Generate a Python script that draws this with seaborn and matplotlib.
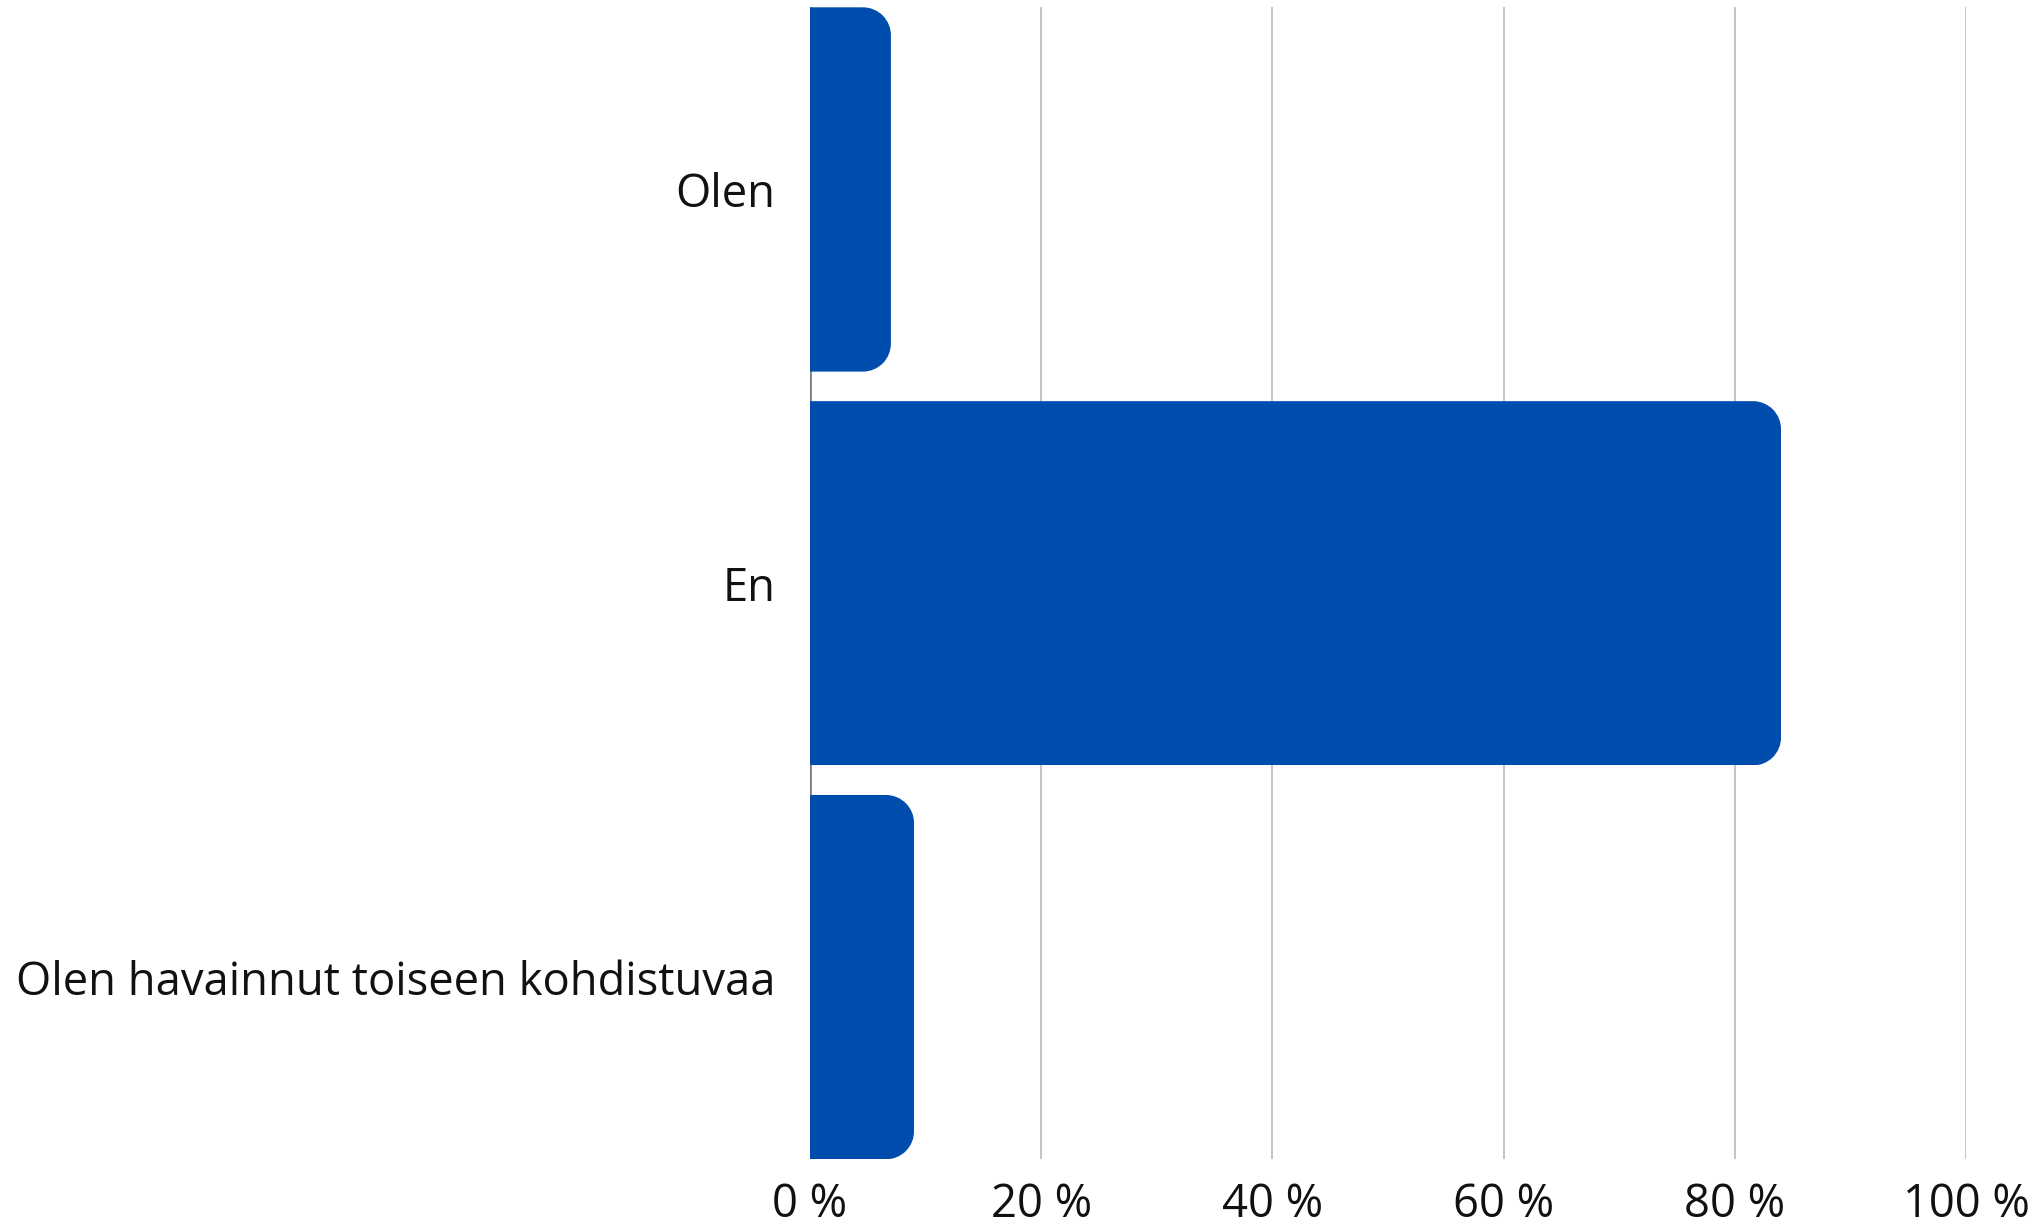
#!/usr/bin/env python3
"""
Horizontal bar chart of survey answers (share of respondents, %).
"""
import matplotlib.pyplot as plt
import seaborn as sns
import pandas as pd
from matplotlib.path import Path
from matplotlib.patches import PathPatch
from matplotlib.transforms import IdentityTransform

# data
categories = ['Olen', 'En', 'Olen havainnut toiseen kohdistuvaa']
shares = [7, 84, 9]
x_ticks = [0, 20, 40, 60, 80, 100]
x_tick_labels = ['0 %', '20 %', '40 %', '60 %', '80 %', '100 %']

bar_color = '#004DAD'
bar_width = 0.925
corner_px = 28


def right_rounded_path(x0, y0, x1, y1, r):
    """Rectangle in pixels, circular arcs on the two right corners."""
    top = Path.arc(0, 90)
    bot = Path.arc(270, 360)
    verts = [(x0, y0), (x1 - r, y0)]
    codes = [Path.MOVETO, Path.LINETO]
    # bottom-right corner
    for (vx, vy), c in zip(bot.vertices, bot.codes):
        verts.append((x1 - r + r * vx, y0 + r + r * vy))
        codes.append(Path.LINETO if c == Path.MOVETO else c)
    # top-right corner
    for (vx, vy), c in zip(top.vertices, top.codes):
        verts.append((x1 - r + r * vx, y1 - r + r * vy))
        codes.append(Path.LINETO if c == Path.MOVETO else c)
    verts += [(x0, y1), (x0, y0)]
    codes += [Path.LINETO, Path.CLOSEPOLY]
    return Path(verts, codes)


sns.set_style('white')
plt.rcParams['font.family'] = ['Open Sans', 'DejaVu Sans']

df = pd.DataFrame({'category': categories, 'share': shares})

fig = plt.figure(figsize=(20.35, 12.25), dpi=100)
ax = fig.add_axes([0.39803, 0.05363, 0.96609 - 0.39803, 0.99404 - 0.05363])

sns.barplot(data=df, x='share', y='category', orient='h', color=bar_color,
            saturation=1, width=bar_width, ax=ax, zorder=3)

ax.set_xlim(0, 100)
ax.set_ylim(len(categories) - 1 + bar_width / 2, -bar_width / 2)
ax.set_xticks(x_ticks)
ax.set_xticklabels(x_tick_labels)
ax.set_xlabel('')
ax.set_ylabel('')

# grid + baseline
ax.xaxis.grid(True, color='#C4C4C4', linewidth=1.4, zorder=0)
ax.yaxis.grid(False)
ax.set_axisbelow(True)
for s in ax.spines.values():
    s.set_visible(False)
ax.axvline(0, color='#7F7F7F', linewidth=2, zorder=1)

ax.tick_params(axis='both', length=0, labelsize=32.7, labelcolor='#111111')
ax.tick_params(axis='y', pad=25)
ax.tick_params(axis='x', pad=16)

# round the right-hand corners of each bar with a clip path in pixel space
fig.canvas.draw()
for bar in ax.patches:
    bb = bar.get_window_extent()
    clip = PathPatch(right_rounded_path(bb.x0 - 5, bb.y0, bb.x1, bb.y1, corner_px),
                     transform=IdentityTransform(),
                     facecolor='none', edgecolor='none')
    bar.set_clip_path(clip)
    bar.set_edgecolor('none')

fig.savefig('out.png', dpi=100)
plt.close(fig)
